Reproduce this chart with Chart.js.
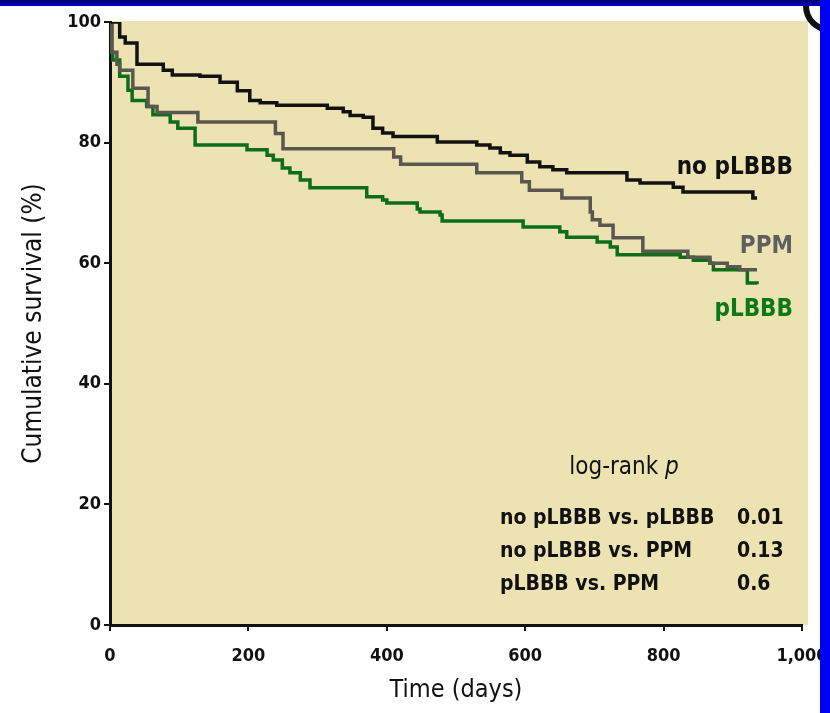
<!DOCTYPE html>
<html>
<head>
<meta charset="utf-8">
<script src="https://cdn.jsdelivr.net/npm/chart.js@4.4.1/dist/chart.umd.min.js"></script>
<style>
  body { margin: 0; background: #fff; }
  #wrap { position: absolute; left: 0; top: 0; width: 830px; height: 713px; }
  #topbar { position: absolute; left: 0; top: 0; width: 830px; height: 6px; background: linear-gradient(#00006a, #0000c8); z-index: 2; }
  #rightbar { position: absolute; left: 820px; top: 0; width: 10px; height: 713px; background: #0000f4; z-index: 2; }
</style>
</head>
<body>
<div id="wrap"><canvas id="canvas" width="830" height="713"></canvas></div>
<div id="topbar"></div>
<div id="rightbar"></div>
<script>
// survival curves (days, %)
var noLbbbDays = [0, 14, 22, 39, 77, 90, 130, 159, 184, 202, 217, 241, 314, 337, 347, 366, 380, 394, 409, 473, 530, 549, 564, 578, 603, 621, 640, 660, 747, 766, 814, 828, 929, 935];
var noLbbbSurv = [100, 97.5, 96.5, 93, 92, 91.2, 91, 90, 88.6, 87, 86.6, 86.2, 85.7, 85.1, 84.5, 84.2, 82.4, 81.6, 81, 80.1, 79.6, 79.1, 78.3, 77.9, 76.8, 76, 75.5, 75, 73.8, 73.3, 72.6, 71.8, 70.8, 70.8];

var ppmDays = [0, 3, 10, 14, 33, 55, 68, 127, 239, 250, 410, 420, 530, 595, 606, 653, 694, 697, 708, 727, 770, 835, 867, 892, 910, 935];
var ppmSurv = [100, 95, 93, 92, 89, 86, 85, 83.4, 81.5, 79, 77.6, 76.4, 75, 73.5, 72.1, 70.8, 68.5, 67.2, 66.3, 64.2, 62, 61, 60, 59.4, 58.9, 58.9];

var lbbbDays = [0, 2, 4, 14, 26, 32, 53, 62, 87, 98, 123, 198, 227, 236, 249, 260, 275, 289, 371, 394, 400, 444, 448, 477, 480, 597, 650, 660, 704, 723, 733, 824, 843, 867, 872, 921, 935];
var lbbbSurv = [100, 95, 93.7, 91, 88.7, 87, 86, 84.6, 83.4, 82.4, 79.6, 78.8, 77.9, 77.1, 75.8, 75, 73.8, 72.5, 71, 70.5, 70, 69, 68.5, 68, 67, 66, 65.2, 64.3, 63.5, 62.7, 61.4, 61, 60.5, 60, 58.9, 56.7, 56.5];

var comparisons = ['no pLBBB vs. pLBBB', 'no pLBBB vs. PPM', 'pLBBB vs. PPM'];
var pValues = ['0.01', '0.13', '0.6'];

var NARROW = '"Liberation Sans Narrow", "DejaVu Sans Condensed", "Arial Narrow", sans-serif';

function toPoints(days, surv) {
    var pts = [];
    for (var i = 0; i < days.length; i++) {
        pts.push({ x: days[i], y: surv[i] });
    }
    return pts;
}

function createDataset(color, name, days, surv) {
    return {
        label: name,
        data: toPoints(days, surv),
        borderColor: color,
        backgroundColor: color,
        borderWidth: 3.5,
        stepped: 'before',
        pointRadius: 0,
        fill: false,
    }
}

// beige plot background
var fundo = {
    id: 'fundo',
    beforeDraw: function (chart) {
        var a = chart.chartArea;
        var ctx = chart.ctx;
        ctx.save();
        ctx.fillStyle = '#ece2b2';
        ctx.fillRect(a.left, a.top - 1, a.right - a.left + 6, a.bottom - a.top + 1);
        ctx.restore();
    }
};

// curve labels, log-rank box, corner icon
var textos = {
    id: 'textos',
    afterDraw: function (chart) {
        var ctx = chart.ctx;
        var y = chart.scales.y;
        ctx.save();
        ctx.textBaseline = 'middle';

        ctx.font = 'bold 24px ' + NARROW;
        ctx.textAlign = 'right';
        ctx.fillStyle = '#111';
        ctx.fillText('no pLBBB', 793, y.getPixelForValue(75.8));
        ctx.fillStyle = '#5f5f5f';
        ctx.fillText('PPM', 793, y.getPixelForValue(62.8));
        ctx.fillStyle = '#0b7a16';
        ctx.fillText('pLBBB', 793, y.getPixelForValue(52.2));

        ctx.fillStyle = '#111';
        ctx.font = '24px ' + NARROW;
        var w1 = ctx.measureText('log-rank ').width;
        ctx.font = 'italic 24px ' + NARROW;
        var w2 = ctx.measureText('p').width;
        var sx = 624 - (w1 + w2) / 2;
        ctx.textAlign = 'left';
        ctx.font = '24px ' + NARROW;
        ctx.fillText('log-rank ', sx, y.getPixelForValue(26));
        ctx.font = 'italic 24px ' + NARROW;
        ctx.fillText('p', sx + w1, y.getPixelForValue(26));

        ctx.font = 'bold 21px ' + NARROW;
        for (var i = 0; i < comparisons.length; i++) {
            var py = y.getPixelForValue(17.6 - i * 5.45);
            ctx.fillText(comparisons[i], 500, py);
            ctx.fillText(pValues[i], 737, py);
        }

        // corner of the icon, top right
        ctx.beginPath();
        ctx.arc(830, 6, 24, Math.PI * 0.5, Math.PI * 1.1);
        ctx.lineWidth = 6;
        ctx.strokeStyle = '#111';
        ctx.stroke();
        ctx.restore();
    }
};

var config = {
    type: 'line',
    data: {
        datasets: [
            createDataset('#121212', 'no pLBBB', noLbbbDays, noLbbbSurv),
            createDataset('#5a5650', 'PPM', ppmDays, ppmSurv),
            createDataset('#0c6f17', 'pLBBB', lbbbDays, lbbbSurv),
        ],
    },
    options: {
        responsive: false,
        animation: false,
        layout: { padding: { left: 0, right: 28, top: 22, bottom: 0 } },
        plugins: { legend: { display: false }, tooltip: { enabled: false } },
        scales: {
            x: {
                type: 'linear',
                min: 0,
                max: 1000,
                afterFit: function (s) { s.height = 88; s.paddingLeft = 0; s.paddingRight = 0; },
                ticks: { stepSize: 200, color: '#111', padding: 15, maxRotation: 0, font: { family: NARROW, size: 18, weight: 'bold' } },
                grid: { drawOnChartArea: false, drawTicks: true, tickLength: 6, color: '#111', lineWidth: 2 },
                border: { color: '#111', width: 3 },
                title: { display: true, text: 'Time (days)', color: '#111', padding: { top: 8, bottom: 8 }, font: { family: NARROW, size: 25 } }
            },
            y: {
                min: 0,
                max: 100,
                afterFit: function (s) { s.width = 110; s.paddingTop = 0; s.paddingBottom = 0; },
                ticks: { stepSize: 20, color: '#111', padding: 3, font: { family: NARROW, size: 18, weight: 'bold' } },
                grid: { drawOnChartArea: false, drawTicks: true, tickLength: 6, color: '#111', lineWidth: 2 },
                border: { color: '#111', width: 3 },
                title: { display: true, text: 'Cumulative survival (%)', color: '#111', padding: { top: 19, bottom: 19 }, font: { family: NARROW, size: 26 } }
            }
        }
    },
    plugins: [fundo, textos]
};

var ctx = document.getElementById('canvas').getContext('2d');
window.myLine = new Chart(ctx, config);
</script>
</body>
</html>
